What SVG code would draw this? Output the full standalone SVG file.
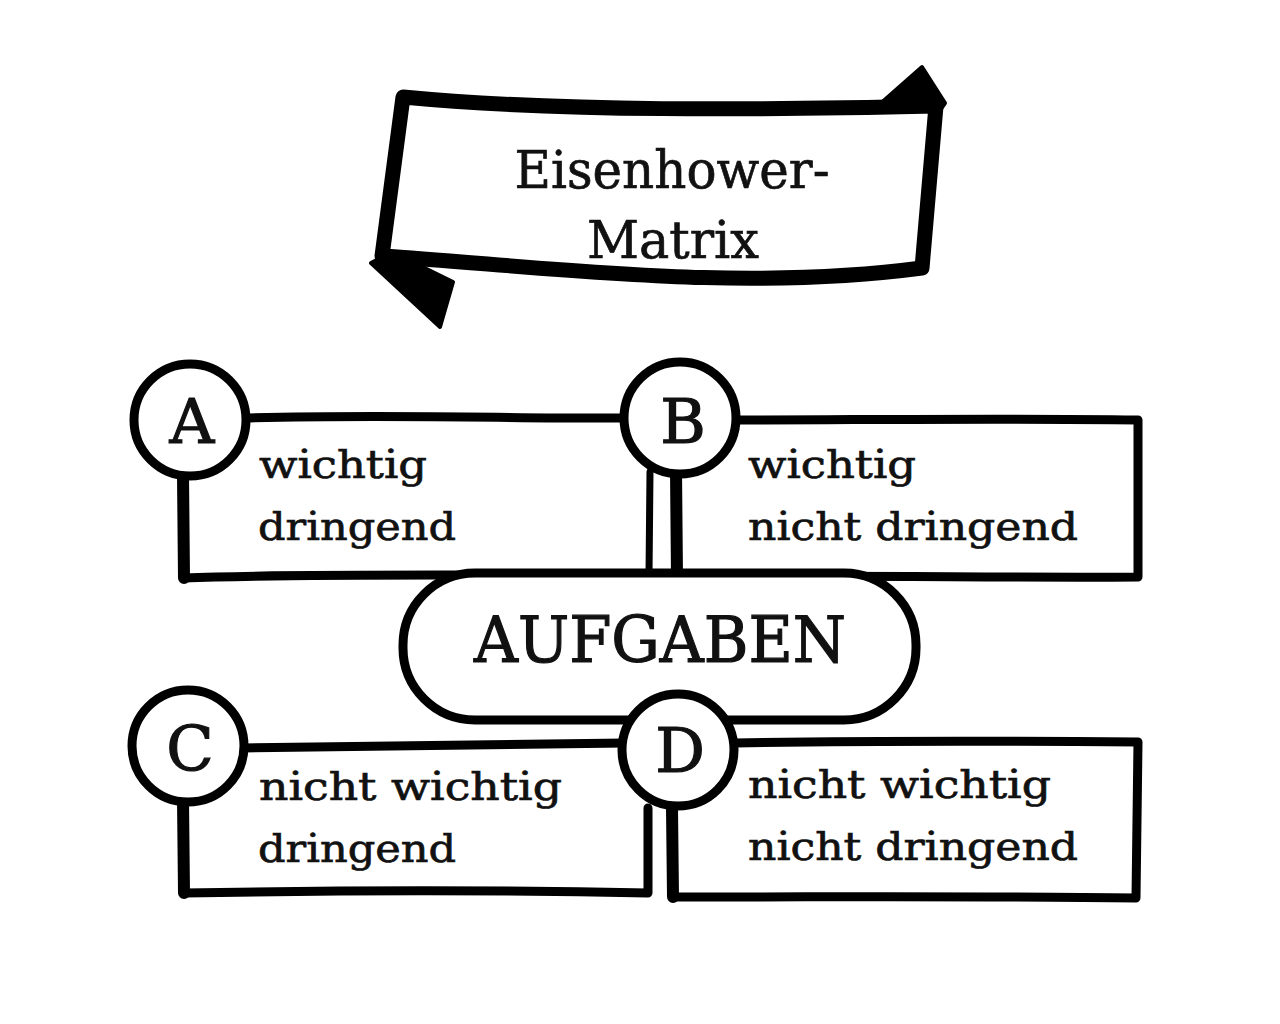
<svg xmlns="http://www.w3.org/2000/svg" width="1280" height="1024" viewBox="0 0 1280 1024">
<style>
.ln{fill:none;stroke:#000;stroke-width:9;stroke-linecap:round;stroke-linejoin:round}
.thick{stroke-width:12}
.sh{fill:#fff;stroke:#000;stroke-width:9;stroke-linejoin:round}
.flap{fill:#000;stroke:#000;stroke-width:4;stroke-linejoin:round}
.t{font-family:"DejaVu Serif","Liberation Serif",serif;fill:#111;stroke:#111;stroke-width:0.7}
.lbl{font-size:40px}
.big{font-size:62px;text-anchor:middle;stroke-width:1.2}
</style>
<rect width="1280" height="1024" fill="#fff"/>
<g id="title-banner">
<polygon class="flap" points="880,104 922,67 945,103 936,116"/>
<polygon class="flap" points="371,263 392,252 453,282 440,327"/>
<path d="M403,97 C560,112 760,110 936,106 L922,268 C740,292 560,268 382,256 Z" fill="#fff" stroke="#000" stroke-width="15" stroke-linejoin="round"/>
<text class="t" x="672" y="188" font-size="52" text-anchor="middle" textLength="315" lengthAdjust="spacingAndGlyphs">Eisenhower-</text>
<text class="t" x="673" y="258" font-size="52" text-anchor="middle" textLength="172" lengthAdjust="spacingAndGlyphs">Matrix</text>
</g>
<g id="connectors">
<path class="ln" d="M243,418 C400,414 520,419 625,418"/>
<path class="ln thick" d="M183,475 L184,578"/>
<path class="ln" d="M184,578 C300,573 500,576 650,575"/>
<path class="ln" style="stroke-width:7" d="M650,472 L649,575"/>
<path class="ln thick" d="M676,470 L677,577"/>
<path class="ln" d="M677,577 C850,575 1000,578 1138,577 L1138,420 C1000,418 850,420 736,420"/>
<path class="ln" d="M243,748 C400,746 520,744 625,743"/>
<path class="ln thick" d="M183,800 L184,893"/>
<path class="ln" d="M184,893 C350,890 500,890 648,893 L648,808"/>
<path class="ln thick" d="M672,808 L673,897"/>
<path class="ln" d="M735,743 C900,740 1020,741 1138,742 L1136,898 C1000,896 850,897 673,897"/>
</g>
<g id="aufgaben">
<rect class="sh" x="403" y="573" width="513" height="147" rx="72" stroke-width="11"/>
<text class="t" x="660" y="662" font-size="64" text-anchor="middle" textLength="372" lengthAdjust="spacingAndGlyphs" style="stroke-width:1.2">AUFGABEN</text>
</g>
<g id="node-a">
<circle class="sh" cx="190" cy="420" r="56"/>
<text class="t big" x="192" y="443">A</text>
<text class="t lbl" x="259" y="478" textLength="168" lengthAdjust="spacingAndGlyphs">wichtig</text>
<text class="t lbl" x="258" y="540" textLength="198" lengthAdjust="spacingAndGlyphs">dringend</text>
</g>
<g id="node-b">
<circle class="sh" cx="680" cy="418" r="56"/>
<text class="t big" x="683" y="443">B</text>
<text class="t lbl" x="748" y="478" textLength="168" lengthAdjust="spacingAndGlyphs">wichtig</text>
<text class="t lbl" x="748" y="540" textLength="330" lengthAdjust="spacingAndGlyphs">nicht dringend</text>
</g>
<g id="node-c">
<circle class="sh" cx="188" cy="746" r="56"/>
<text class="t big" x="190" y="770">C</text>
<text class="t lbl" x="259" y="800" textLength="303" lengthAdjust="spacingAndGlyphs">nicht wichtig</text>
<text class="t lbl" x="258" y="862" textLength="198" lengthAdjust="spacingAndGlyphs">dringend</text>
</g>
<g id="node-d">
<circle class="sh" cx="678" cy="750" r="56"/>
<text class="t big" x="680" y="772">D</text>
<text class="t lbl" x="748" y="798" textLength="303" lengthAdjust="spacingAndGlyphs">nicht wichtig</text>
<text class="t lbl" x="748" y="860" textLength="330" lengthAdjust="spacingAndGlyphs">nicht dringend</text>
</g>
</svg>
